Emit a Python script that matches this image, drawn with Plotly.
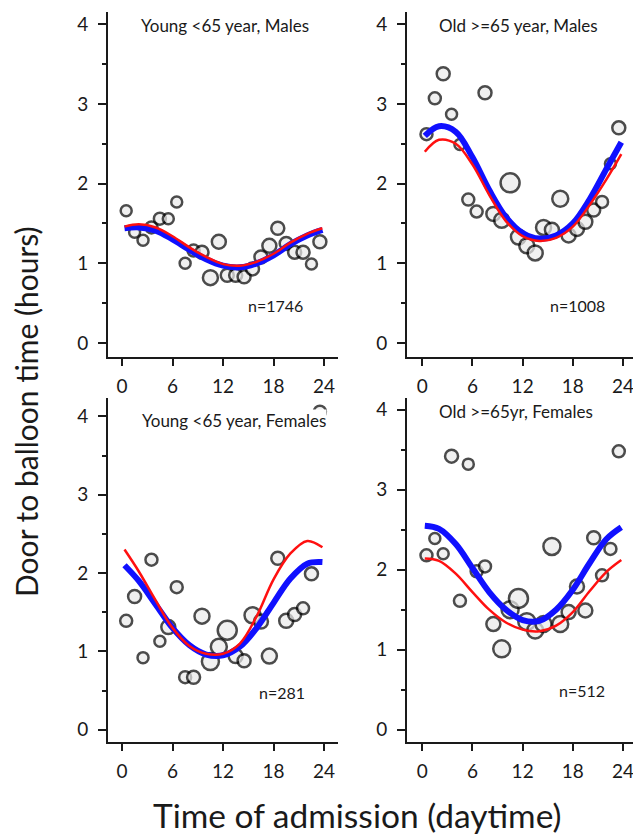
import plotly.graph_objects as go

W, H = 633, 835

# ---- data ----
hours = [0.5, 1.5, 2.5, 3.5, 4.5, 5.5, 6.5, 7.5, 8.5, 9.5, 10.5, 11.5,
         12.5, 13.5, 14.5, 15.5, 16.5, 17.5, 18.5, 19.5, 20.5, 21.5, 22.5, 23.5]

ym_vals = [1.66, 1.39, 1.29, 1.45, 1.56, 1.56, 1.77, 1.00, 1.16, 1.14, 0.82, 1.27,
           0.85, 0.85, 0.83, 0.93, 1.08, 1.22, 1.44, 1.25, 1.14, 1.14, 0.99, 1.27]
ym_size = [11, 11, 11, 12, 12, 11, 11, 11, 12, 13, 15, 14,
           13, 13, 13, 13, 13, 14, 13, 13, 13, 13, 11, 13]

om_vals = [2.62, 3.07, 3.38, 2.87, 2.49, 1.80, 1.65, 3.14, 1.62, 1.54, 2.01, 1.33,
           1.22, 1.13, 1.45, 1.42, 1.81, 1.35, 1.43, 1.52, 1.67, 1.77, 2.25, 2.70]
om_size = [12, 12, 13, 11, 11, 12, 12, 13, 14, 15, 19, 15,
           15, 15, 15, 14, 16, 14, 14, 14, 13, 12, 11, 13]

yf_vals = [1.39, 1.70, 0.92, 2.17, 1.13, 1.31, 1.82, 0.67, 0.67, 1.45, 0.87, 1.06,
           1.27, 0.94, 0.88, 1.46, 1.38, 0.94, 2.19, 1.39, 1.47, 1.55, 1.99, 4.06]
yf_size = [12, 13, 11, 12, 11, 14, 12, 12, 13, 15, 17, 16,
           19, 14, 13, 16, 14, 15, 13, 14, 13, 12, 13, 12]

of_vals = [2.18, 2.39, 2.20, 3.42, 1.61, 3.32, 1.98, 2.04, 1.32, 1.01, 1.50, 1.64,
           1.35, 1.24, 1.32, 2.29, 1.32, 1.47, 1.79, 1.49, 2.40, 1.93, 2.26, 3.48]
of_size = [12, 11, 11, 13, 12, 11, 12, 12, 14, 17, 17, 19,
           17, 16, 16, 17, 16, 14, 14, 14, 13, 12, 12, 12]

curve_hours = [0.3, 2, 4, 6, 8, 10, 12, 14, 16, 18, 20, 22, 23.8]

ym_blue = [1.44, 1.45, 1.41, 1.30, 1.17, 1.05, 0.97, 0.95, 1.00, 1.10, 1.24, 1.35, 1.42]
ym_red  = [1.46, 1.49, 1.45, 1.34, 1.20, 1.08, 0.99, 0.97, 1.02, 1.12, 1.26, 1.37, 1.44]

om_blue = [2.60, 2.72, 2.65, 2.33, 1.92, 1.58, 1.38, 1.31, 1.35, 1.50, 1.80, 2.18, 2.52]
om_red  = [2.40, 2.55, 2.50, 2.24, 1.86, 1.53, 1.34, 1.28, 1.32, 1.46, 1.73, 2.05, 2.37]

yf_blue = [2.10, 1.90, 1.60, 1.30, 1.08, 0.96, 0.95, 1.06, 1.30, 1.62, 1.93, 2.12, 2.14]
yf_red  = [2.30, 2.02, 1.65, 1.30, 1.07, 0.97, 0.97, 1.10, 1.45, 1.92, 2.25, 2.41, 2.33]

of_blue = [2.55, 2.51, 2.32, 2.02, 1.72, 1.50, 1.37, 1.36, 1.50, 1.75, 2.08, 2.38, 2.53]
of_red  = [2.14, 2.11, 1.95, 1.72, 1.50, 1.34, 1.25, 1.23, 1.30, 1.47, 1.73, 1.97, 2.12]

panel_titles = ["Young <65 year, Males", "Old >=65 year, Males",
                "Young <65 year, Females", "Old >=65yr, Females"]
n_labels = ["n=1746", "n=1008", "n=281", "n=512"]
x_ticks = [0, 6, 12, 18, 24]
y_ticks = [0, 1, 2, 3, 4]

FONT = "Lato"
INK = "#1a1a1a"

panels = [
    (ym_vals, ym_size, ym_blue, ym_red),
    (om_vals, om_size, om_blue, om_red),
    (yf_vals, yf_size, yf_blue, yf_red),
    (of_vals, of_size, of_blue, of_red),
]

# layout geometry (pixels)
xdom_px = [(108, 338), (407, 633), (108, 338), (407, 633)]
ydom_px = [(12, 357), (12, 357), (398, 742), (398, 742)]
xranges = [[-1.66, 25.65], [-1.83, 25.2], [-1.66, 25.65], [-1.83, 25.2]]
yranges = [[-0.176, 4.154], [-0.176, 4.154], [-0.157, 4.235], [-0.155, 4.147]]

fig = go.Figure()

for i, (vals, sizes, blue, red) in enumerate(panels):
    sfx = "" if i == 0 else str(i + 1)
    xa, ya = "x" + sfx, "y" + sfx
    fig.add_trace(go.Scatter(
        x=hours, y=vals, mode="markers", xaxis=xa, yaxis=ya,
        marker=dict(size=sizes, color="#ebebeb", line=dict(color="#000000", width=2.5)),
        showlegend=False, cliponaxis=True))
    fig.add_trace(go.Scatter(
        x=curve_hours, y=blue, mode="lines", xaxis=xa, yaxis=ya,
        line=dict(color="#1010ff", width=6, shape="spline"), showlegend=False))
    fig.add_trace(go.Scatter(
        x=curve_hours, y=red, mode="lines", xaxis=xa, yaxis=ya,
        line=dict(color="#ff1010", width=2.5, shape="spline"), showlegend=False))

layout = dict(
    width=W, height=H, margin=dict(l=0, r=0, t=0, b=0, autoexpand=False),
    paper_bgcolor="white", plot_bgcolor="white",
    font=dict(family=FONT, color=INK),
    showlegend=False,
)

for i in range(4):
    sfx = "" if i == 0 else str(i + 1)
    x0, x1 = xdom_px[i]
    yt, yb = ydom_px[i]
    layout["xaxis" + sfx] = dict(
        domain=[x0 / W, min(1.0, x1 / W)], range=xranges[i], automargin=False,
        anchor="y" + sfx, tickvals=x_ticks, ticktext=[str(t) for t in x_ticks],
        ticks="outside", ticklen=7, tickwidth=1.5, tickcolor=INK,
        showline=True, linecolor=INK, linewidth=2, showgrid=False, zeroline=False,
        tickfont=dict(size=19, family=FONT, color=INK), ticklabelstandoff=4,
        ticklabeloverflow="allow")
    layout["yaxis" + sfx] = dict(
        domain=[1 - yb / H, 1 - yt / H], range=yranges[i], automargin=False,
        anchor="x" + sfx, tickvals=y_ticks, ticktext=[str(t) for t in y_ticks],
        ticks="outside", ticklen=8, tickwidth=1.5, tickcolor=INK,
        minor=dict(tickvals=[0.5, 1.5, 2.5, 3.5], ticks="outside", ticklen=4,
                   tickwidth=1.5, tickcolor=INK, showgrid=False),
        showline=True, linecolor=INK, linewidth=2, showgrid=False, zeroline=False,
        tickfont=dict(size=19, family=FONT, color=INK), ticklabelstandoff=6,
        ticklabeloverflow="allow")

title_pos = [(225, 25), (518, 25), (234, 420), (516, 412)]
n_pos = [(275, 305), (577, 305), (282, 692), (582, 690)]

annotations = []
for i in range(4):
    tx, ty = title_pos[i]
    annotations.append(dict(
        text=panel_titles[i], x=tx / W, y=1 - ty / H, xref="paper", yref="paper",
        xanchor="center", yanchor="middle", showarrow=False,
        font=dict(size=17, family=FONT, color=INK),
        bgcolor="white" if i == 2 else "rgba(0,0,0,0)", borderpad=0))
    nx, ny = n_pos[i]
    annotations.append(dict(
        text=n_labels[i], x=nx / W, y=1 - ny / H, xref="paper", yref="paper",
        xanchor="center", yanchor="middle", showarrow=False,
        font=dict(size=16, family=FONT, color=INK)))

annotations.append(dict(
    text="Door to balloon time (hours)", x=26 / W, y=1 - 412 / H,
    xref="paper", yref="paper", xanchor="center", yanchor="middle",
    textangle=-90, showarrow=False, font=dict(size=30, family=FONT, color=INK)))
annotations.append(dict(
    text="Time of admission (daytime)", x=357 / W, y=1 - 815 / H,
    xref="paper", yref="paper", xanchor="center", yanchor="middle",
    showarrow=False, font=dict(size=33.5, family=FONT, color=INK)))

layout["annotations"] = annotations
fig.update_layout(**layout)

fig.write_html("out.html",
               config={"displayModeBar": False},
               post_script="document.body.style.margin='0';document.body.style.overflow='hidden';")
